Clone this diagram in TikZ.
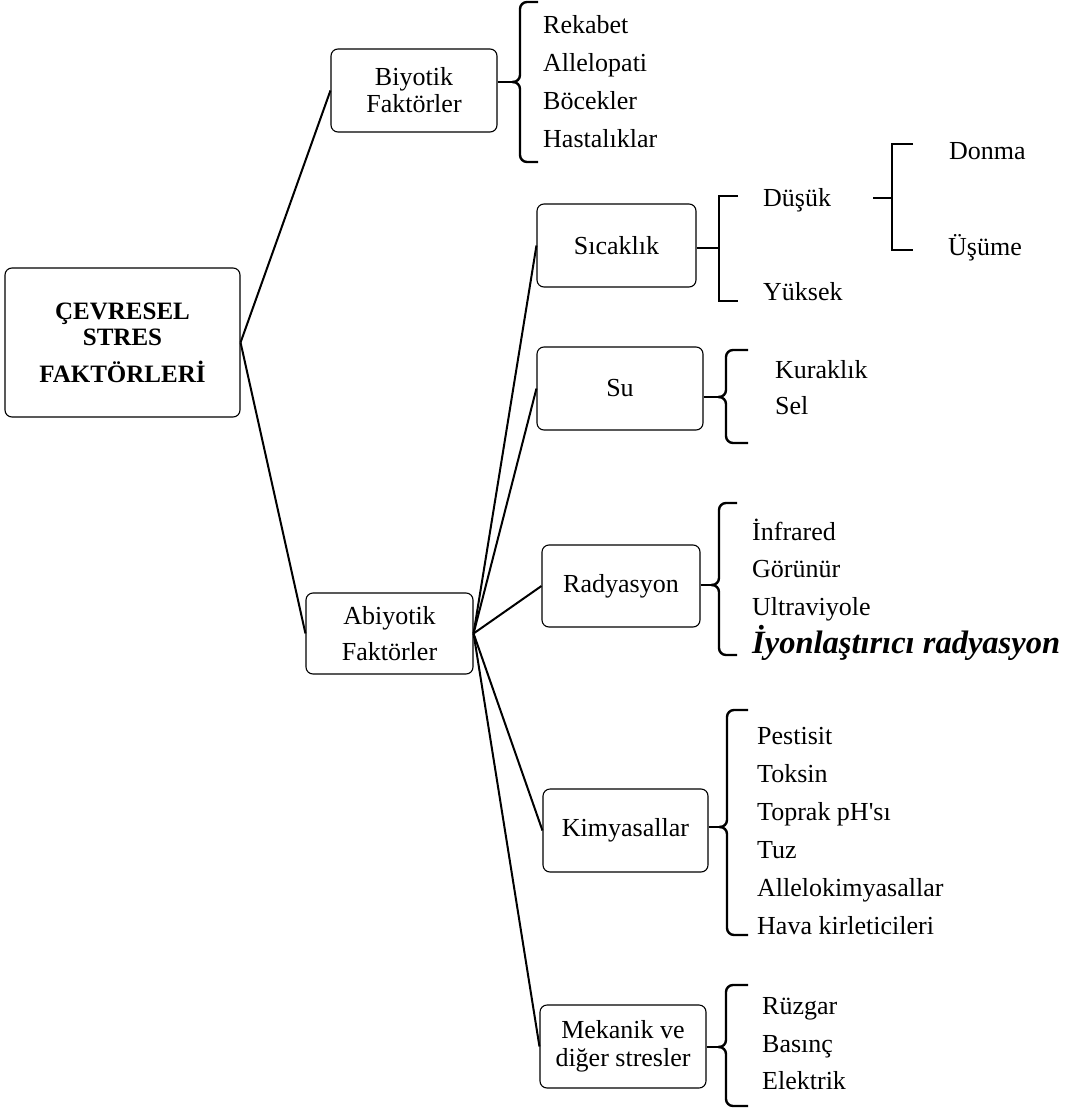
\documentclass[tikz,border=0pt]{standalone}
\usepackage{fontspec}
\setmainfont{Liberation Serif}
\usepackage{tikz}
\usetikzlibrary{arrows,shapes}
\newcommand{\boxl}{1.1pt}
\newcommand{\armw}{2.4pt}
\newcommand{\curlb}[3]{%
  \draw[brc] (#1) -- ++(8,0) |- (#2);
  \draw[brc] (#1) -- ++(8,0) |- (#3);}

\begin{document}
\begin{tikzpicture}[x=1pt, y=-1pt]
                %\draw[help lines] (0,0) grid[step=50] (1066,1110);
                \useasboundingbox (0,0) rectangle (1066,1110);
                \tikzset{box/.style = {draw, rounded corners = 7pt, line width = \boxl, align = center,
                                       inner sep = 0pt, font = \fontsize{26}{28}\selectfont},
                         item/.style = {anchor = base west, inner sep = 0pt, font = \fontsize{26}{30}\selectfont},
                         link/.style = {line width = 2pt},
                         brc/.style = {line width = \armw, rounded corners = 7pt},
                         brk/.style = {line width = \armw}}

                % boxes
                \node[box, minimum width = 235, minimum height = 149, font = \fontsize{25}{26}\selectfont\bfseries]
                    (cevre) at (122.5,342.5) {ÇEVRESEL\\STRES\\[11pt]FAKTÖRLERİ};
                \node[box, minimum width = 166, minimum height = 83, font = \fontsize{26}{27}\selectfont]
                    (biyo) at (414,90.5) {Biyotik\\Faktörler};
                \node[box, minimum width = 167, minimum height = 81, font = \fontsize{26}{36}\selectfont]
                    (abiyo) at (389.5,633.5) {Abiyotik\\Faktörler};
                \node[box, minimum width = 159, minimum height = 83] (sicak) at (616.5,245.5) {Sıcaklık};
                \node[box, minimum width = 166, minimum height = 83] (su) at (620,388.5) {Su};
                \node[box, minimum width = 158, minimum height = 82] (rady) at (621,586) {Radyasyon};
                \node[box, minimum width = 165, minimum height = 83] (kimya) at (625.5,830.5) {Kimyasallar};
                \node[box, minimum width = 166, minimum height = 83] (meka) at (623,1046.5) {Mekanik ve\\diğer stresler};

                \draw[link] (cevre.east) -- (biyo.west);
                \draw[link] (cevre.east) -- (abiyo.west);
                \draw[link] (abiyo.east) -- (sicak.west);
                \draw[link] (abiyo.east) -- (su.west);
                \draw[link] (abiyo.east) -- (rady.west);
                \draw[link] (abiyo.east) -- (kimya.west);
                \draw[link] (abiyo.east) -- (meka.west);

                % biyotik
                \node[item] (rekabet) at (543,34) {Rekabet};
                \node[item] (allelo) at (543,72) {Allelopati};
                \node[item] (bocek) at (543,110) {Böcekler};
                \node[item] (hasta) at (543,148) {Hastalıklar};
                \coordinate (bioT) at (512,82);
                \coordinate (bioTop) at (538,2);
                \coordinate (bioBot) at (538,162);
                \draw[brk] (biyo.east |- bioT) -- (bioT);
                \curlb{bioT}{bioTop}{bioBot}

                % sicaklik
                \node[item] (dusuk) at (763,206) {Düşük};
                \node[item] (yuksek) at (763,300) {Yüksek};
                \node[item] (donma) at (949,160) {Donma};
                \node[item] (usume) at (948,255) {Üşüme};
                \coordinate (sicM) at (719,248);
                \coordinate (sicTop) at (738,196);
                \coordinate (sicBot) at (738,301);
                \draw[brk] (sicak.east |- sicM) -- (sicM);
                \draw[brk] (sicTop) -| (sicM) |- (sicBot);
                \coordinate (dusS) at (873,198);
                \coordinate (dusM) at (892,198);
                \coordinate (dusTop) at (913,144);
                \coordinate (dusBot) at (913,250);
                \draw[brk] (dusS) -- (dusM);
                \draw[brk] (dusTop) -| (dusM) |- (dusBot);

                % su
                \node[item] (kurak) at (775,378) {Kuraklık};
                \node[item] (sel) at (775,414) {Sel};
                \coordinate (suT) at (718,397);
                \coordinate (suTop) at (748,350);
                \coordinate (suBot) at (748,443);
                \draw[brk] (su.east |- suT) -- (suT);
                \curlb{suT}{suTop}{suBot}

                % radyasyon
                \node[item] (infra) at (752,540) {İnfrared};
                \node[item] (gorun) at (752,577) {Görünür};
                \node[item] (ultra) at (752,615) {Ultraviyole};
                \node[item, font = \fontsize{32.5}{36}\selectfont\bfseries\itshape] (iyon) at (752,653) {İyonlaştırıcı radyasyon};
                \coordinate (radT) at (711,585);
                \coordinate (radTop) at (737,503);
                \coordinate (radBot) at (737,655);
                \draw[brk] (rady.east |- radT) -- (radT);
                \curlb{radT}{radTop}{radBot}

                % kimyasallar
                \node[item] (pest) at (757,744) {Pestisit};
                \node[item] (toks) at (757,782) {Toksin};
                \node[item] (toprak) at (757,820) {Toprak pH\textquotesingle sı};
                \node[item] (tuz) at (757,858) {Tuz};
                \node[item] (allelok) at (757,896) {Allelokimyasallar};
                \node[item] (hava) at (757,934) {Hava kirleticileri};
                \coordinate (kimT) at (719,827);
                \coordinate (kimTop) at (748,710);
                \coordinate (kimBot) at (748,935);
                \draw[brk] (kimya.east |- kimT) -- (kimT);
                \curlb{kimT}{kimTop}{kimBot}

                % mekanik
                \node[item] (ruzgar) at (762,1014) {Rüzgar};
                \node[item] (basinc) at (762,1052) {Basınç};
                \node[item] (elek) at (762,1089) {Elektrik};
                \coordinate (mekT) at (718,1047);
                \coordinate (mekTop) at (748,985);
                \coordinate (mekBot) at (748,1106);
                \draw[brk] (meka.east |- mekT) -- (mekT);
                \curlb{mekT}{mekTop}{mekBot}
        \end{tikzpicture}
\end{document}
